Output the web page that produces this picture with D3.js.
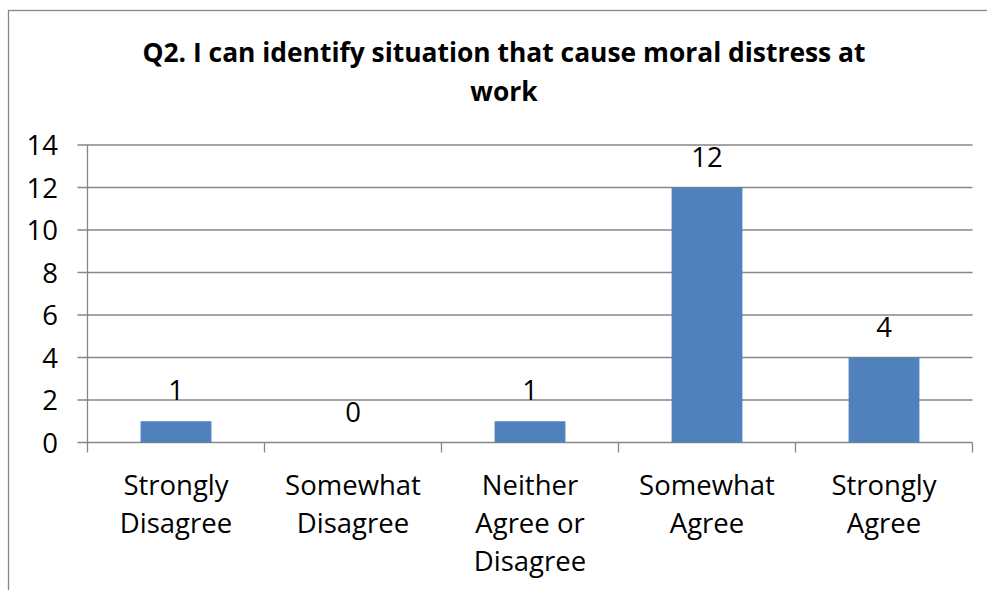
<!DOCTYPE html>
<html>
<head>
<meta charset="utf-8">
<script src="https://cdn.jsdelivr.net/npm/d3@7"></script>
<style>
  html, body { margin: 0; padding: 0; background: #fff; }
  svg { display: block; }
  text { font-family: "Open Sans", sans-serif; fill: #000; }
</style>
</head>
<body>
<svg id="chart" width="987" height="590"></svg>
<script>
// Survey responses for Q2
const categories = [
  ["Strongly", "Disagree"],
  ["Somewhat", "Disagree"],
  ["Neither", "Agree or", "Disagree"],
  ["Somewhat", "Agree"],
  ["Strongly", "Agree"]
];
const counts = [1, 0, 1, 12, 4];
const yTicks = [0, 2, 4, 6, 8, 10, 12, 14];
const titleLines = ["Q2. I can identify situation that cause moral distress at", "work"];

const svg = d3.select("#chart");
const plot = { left: 87.5, right: 972.5, top: 145, bottom: 442.5 };
const gridColor = "#868686";
const barColor = "#4F81BD";
const labelSize = 27.5;

// Outer chart frame (extends past the right and bottom edges)
svg.append("rect")
  .attr("x", 8.5).attr("y", 10.5)
  .attr("width", 1000).attr("height", 700)
  .attr("fill", "#fff")
  .attr("stroke", "#868686").attr("stroke-width", 1.3);

// Title
svg.append("text")
  .attr("text-anchor", "middle")
  .attr("font-weight", "bold")
  .attr("font-size", 26.4)
  .selectAll("tspan")
  .data(titleLines)
  .join("tspan")
  .attr("x", 504)
  .attr("y", (d, i) => 62 + i * 39)
  .text(d => d);

const x = d3.scaleBand()
  .domain(d3.range(categories.length))
  .range([plot.left, plot.right]);

const y = d3.scaleLinear()
  .domain([0, 14])
  .range([plot.bottom, plot.top]);

// Horizontal gridlines
svg.append("g")
  .selectAll("line")
  .data(yTicks)
  .join("line")
  .attr("x1", plot.left - 10).attr("x2", plot.right)
  .attr("y1", d => y(d)).attr("y2", d => y(d))
  .attr("stroke", gridColor).attr("stroke-width", 1.3);

// Y axis line
svg.append("line")
  .attr("x1", plot.left).attr("x2", plot.left)
  .attr("y1", plot.top).attr("y2", plot.bottom)
  .attr("stroke", gridColor).attr("stroke-width", 1.3);

// Y tick labels
svg.append("g")
  .selectAll("text")
  .data(yTicks)
  .join("text")
  .attr("x", 58)
  .attr("y", d => y(d) + 10)
  .attr("text-anchor", "end")
  .attr("font-size", labelSize)
  .text(d => d);

// X tick marks at category boundaries
const boundaries = d3.range(categories.length + 1).map(i => plot.left + i * x.step());
svg.append("g")
  .selectAll("line")
  .data(boundaries)
  .join("line")
  .attr("x1", d => d).attr("x2", d => d)
  .attr("y1", plot.bottom).attr("y2", plot.bottom + 10)
  .attr("stroke", gridColor).attr("stroke-width", 1.3);

// Bars
const barW = x.bandwidth() * 0.4;
svg.append("g")
  .selectAll("rect")
  .data(counts)
  .join("rect")
  .attr("x", (d, i) => x(i) + (x.bandwidth() - barW) / 2)
  .attr("y", d => y(d))
  .attr("width", barW)
  .attr("height", d => y(0) - y(d))
  .attr("fill", barColor);

// Value labels
svg.append("g")
  .selectAll("text")
  .data(counts)
  .join("text")
  .attr("x", (d, i) => x(i) + x.bandwidth() / 2)
  .attr("y", d => y(d) - 21)
  .attr("text-anchor", "middle")
  .attr("font-size", labelSize)
  .text(d => d);

// Category labels
svg.append("g")
  .selectAll("text")
  .data(categories)
  .join("text")
  .attr("text-anchor", "middle")
  .attr("font-size", labelSize)
  .each(function(lines, i) {
    d3.select(this).selectAll("tspan")
      .data(lines)
      .join("tspan")
      .attr("x", x(i) + x.bandwidth() / 2)
      .attr("y", (d, j) => 495 + j * 38)
      .text(d => d);
  });
</script>
</body>
</html>
